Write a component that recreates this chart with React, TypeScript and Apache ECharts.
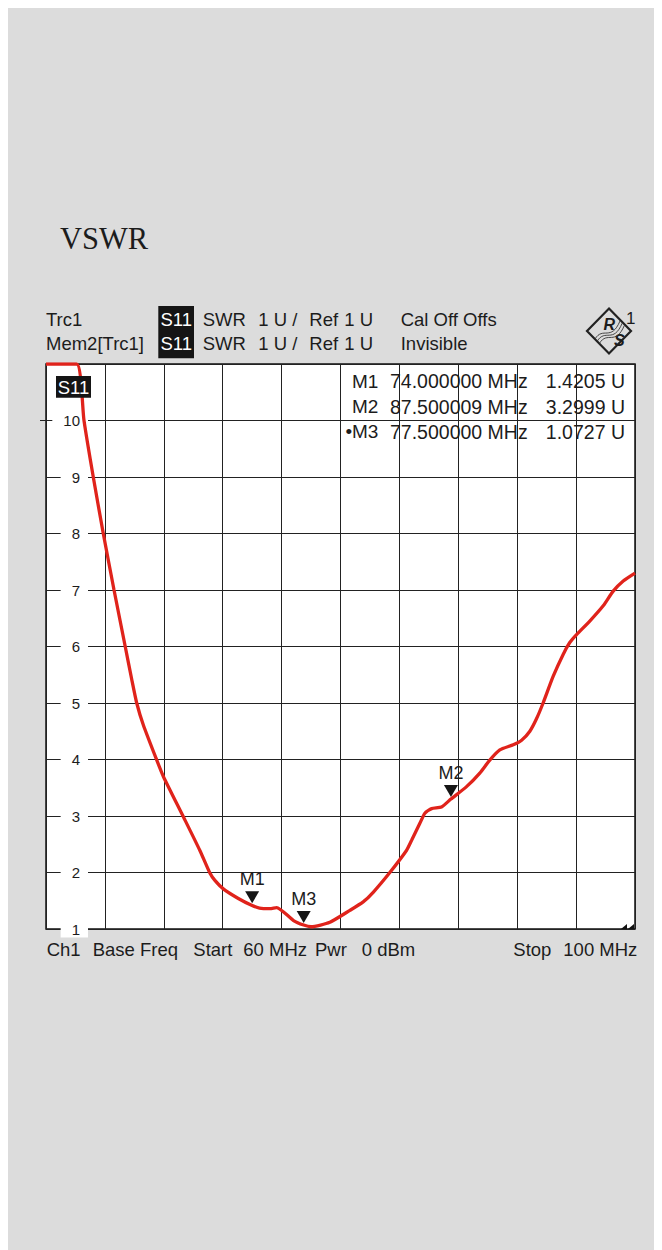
import React, { useEffect, useRef } from "react";
import * as echarts from "echarts";

// Trace S11 (SWR) — frequency in MHz, SWR in U
const freqMHz = [
  60, 62.08, 62.58, 63.21, 63.89, 64.62, 65.38, 65.82, 66.16, 66.61, 67.52, 67.97,
  69.32, 70.45, 71.13, 71.47, 72.04, 73.06, 73.96, 74.5, 75.21, 75.66, 76.81, 77.5,
  78.0, 79.28, 80.64, 81.54, 82.22, 83.35, 84.48, 84.83, 85.39, 85.73, 86.19, 86.86,
  87.5, 88.56, 89.46, 90.14, 90.82, 91.73, 92.3, 92.86, 93.31, 93.76, 94.44, 95.12,
  95.57, 96.03, 96.93, 97.84, 98.52, 99.2, 100,
];
const swr = [
  11, 11, 10, 9, 8, 7, 6, 5.42, 5.0, 4.61, 3.99, 3.7,
  2.99, 2.39, 1.99, 1.86, 1.71, 1.54, 1.42, 1.37, 1.36, 1.38, 1.15, 1.07,
  1.04, 1.12, 1.33, 1.48, 1.65, 2.0, 2.39, 2.57, 2.87, 3.05, 3.13, 3.16,
  3.3, 3.52, 3.76, 3.99, 4.17, 4.26, 4.34, 4.5, 4.72, 5.0, 5.47, 5.86,
  6.07, 6.21, 6.45, 6.72, 6.98, 7.16, 7.3,
];

// Markers
const markerNames = ["M1", "M2", "M3"];
const markerFreq = [74.0, 87.500009, 77.5];
const markerSwr = [1.4205, 3.2999, 1.0727];
const markerFreqText = ["74.000000 MHz", "87.500009 MHz", "77.500000 MHz"];
const markerValText = ["1.4205 U", "3.2999 U", "1.0727 U"];

// Axis settings
const xMin = 60;
const xMax = 100;
const xStep = 4;
const yMin = 1;
const yMax = 11;
const yStep = 1;

const SANS = "'Liberation Sans', Arial, Helvetica, sans-serif";
const SERIF = "'Liberation Serif', 'Times New Roman', serif";
const INK = "#1c1c1c";

function txt(text: string, x: number, y: number, size = 18.5, opts: any = {}) {
  return {
    type: "text",
    x,
    y,
    z: 20,
    style: {
      text,
      fill: opts.fill || INK,
      font: `${opts.style || "normal"} ${opts.weight || "normal"} ${size}px ${opts.family || SANS}`,
      align: opts.align || "left",
      verticalAlign: "middle",
    },
  };
}

export default function App() {
  const ref = useRef<HTMLDivElement>(null);

  useEffect(() => {
    if (!ref.current) return;
    const chart = echarts.init(ref.current, undefined, { renderer: "svg" });

    const rowY = [373, 398.7, 423.7];
    const waves = [0, 2.2, 4.4].map((d) => ({
      type: "bezierCurve",
      z: 20,
      shape: {
        x1: 587 + d,
        y1: 331 + d,
        cpx1: 595 + d,
        cpy1: 318 + d,
        cpx2: 603 + d,
        cpy2: 334 + d,
        x2: 612 + d,
        y2: 313 + d,
      },
      style: { stroke: "#333", lineWidth: 0.9, fill: "none" },
    }));

    const graphic: any[] = [
      // Title
      txt("VSWR", 52, 231.3, 30.5, { family: SERIF }),
      // Header line 1
      txt("Trc1", 38, 311),
      { type: "rect", z: 19, shape: { x: 150.3, y: 298, width: 35.7, height: 52.3 }, style: { fill: "#151515" } },
      txt("S11", 168.2, 311, 18.5, { fill: "#fff", align: "center" }),
      txt("SWR", 194.7, 311),
      txt("1 U /", 250.3, 311),
      txt("Ref", 301.3, 311),
      txt("1 U", 336.3, 311),
      txt("Cal Off Offs", 392.7, 311),
      // Header line 2
      txt("Mem2[Trc1]", 38, 335),
      txt("S11", 168.2, 335, 18.5, { fill: "#fff", align: "center" }),
      txt("SWR", 194.7, 335),
      txt("1 U /", 250.3, 335),
      txt("Ref", 301.3, 335),
      txt("1 U", 336.3, 335),
      txt("Invisible", 392.7, 335),
      // Logo
      {
        type: "polygon",
        z: 20,
        shape: { points: [[601, 300.5], [623, 323], [601, 345.5], [579, 323]] },
        style: { fill: "none", stroke: "#222", lineWidth: 2.2 },
      },
      txt("R", 595.5, 316, 16, { weight: "bold", style: "italic" }),
      txt("S", 606, 332, 16, { weight: "bold", style: "italic" }),
      ...waves,
      txt("1", 618, 310, 17),
      // S11 label in plot
      { type: "rect", z: 19, shape: { x: 48, y: 368, width: 35, height: 21.7 }, style: { fill: "#151515" } },
      txt("S11", 65.5, 379, 18.5, { fill: "#fff", align: "center" }),
      // reference tick at 10
      { type: "line", z: 20, shape: { x1: 32, y1: 412.5, x2: 38, y2: 412.5 }, style: { stroke: "#222", lineWidth: 1 } },
      // corner marks
      { type: "polygon", z: 20, shape: { points: [[613, 921], [619, 916], [619, 921]] }, style: { fill: "#111" } },
      { type: "polygon", z: 20, shape: { points: [[620, 921], [626, 916], [626, 921]] }, style: { fill: "#111" } },
      // Bottom line
      txt("Ch1", 38.7, 941.7),
      txt("Base Freq", 84.7, 941.7),
      txt("Start", 185.3, 941.7),
      txt("60 MHz", 235.3, 941.7),
      txt("Pwr", 307, 941.7),
      txt("0 dBm", 353.7, 941.7),
      txt("Stop", 505.3, 941.7),
      txt("100 MHz", 555.3, 941.7),
    ];

    markerNames.forEach((n, i) => {
      if (i === 2) graphic.push(txt("•", 337.5, rowY[i], 19));
      graphic.push(txt(n, 344, rowY[i], 19));
      graphic.push(txt(markerFreqText[i], 382, rowY[i], 19.5));
      graphic.push(txt(markerValText[i], 617, rowY[i], 19.5, { align: "right" }));
    });

    const option: any = {
      animation: false,
      backgroundColor: "#dcdcdc",
      grid: {
        left: 38,
        right: 27,
        top: 356,
        bottom: 321,
        show: true,
        backgroundColor: "#ffffff",
        borderColor: "#111",
        borderWidth: 1.5,
      },
      xAxis: {
        type: "value",
        min: xMin,
        max: xMax,
        interval: xStep,
        axisLine: { show: false },
        axisTick: { show: false },
        axisLabel: { show: false },
        splitLine: { show: true, lineStyle: { color: "#222", width: 1 } },
      },
      yAxis: {
        type: "value",
        min: yMin,
        max: yMax,
        interval: yStep,
        axisLine: { show: false },
        axisTick: { show: false },
        splitLine: { show: true, lineStyle: { color: "#222", width: 1 } },
        axisLabel: {
          inside: true,
          margin: 42,
          align: "right",
          verticalAlign: "middle",
          fontSize: 15,
          fontFamily: SANS,
          color: INK,
          backgroundColor: "#ffffff",
          padding: [1, 8, 1, 11],
          showMaxLabel: false,
        },
      },
      series: [
        {
          type: "line",
          data: freqMHz.map((f, i) => [f, swr[i]]),
          symbol: "none",
          showSymbol: false,
          smooth: 0.2,
          lineStyle: { color: "#e0231b", width: 3.3 },
          z: 5,
          markPoint: {
            symbol: "triangle",
            symbolSize: [14, 12],
            symbolRotate: 180,
            symbolOffset: [0, -8],
            itemStyle: { color: "#151515" },
            label: {
              show: true,
              position: "top",
              distance: 3,
              color: INK,
              fontSize: 18,
              fontFamily: SANS,
              formatter: (p: any) => p.name,
            },
            data: markerNames.map((n, i) => ({ name: n, coord: [markerFreq[i], markerSwr[i]] })),
          },
        },
      ],
      graphic,
    };

    chart.setOption(option);
    return () => chart.dispose();
  }, []);

  return <div ref={ref} style={{ width: 654, height: 1242 }} />;
}
